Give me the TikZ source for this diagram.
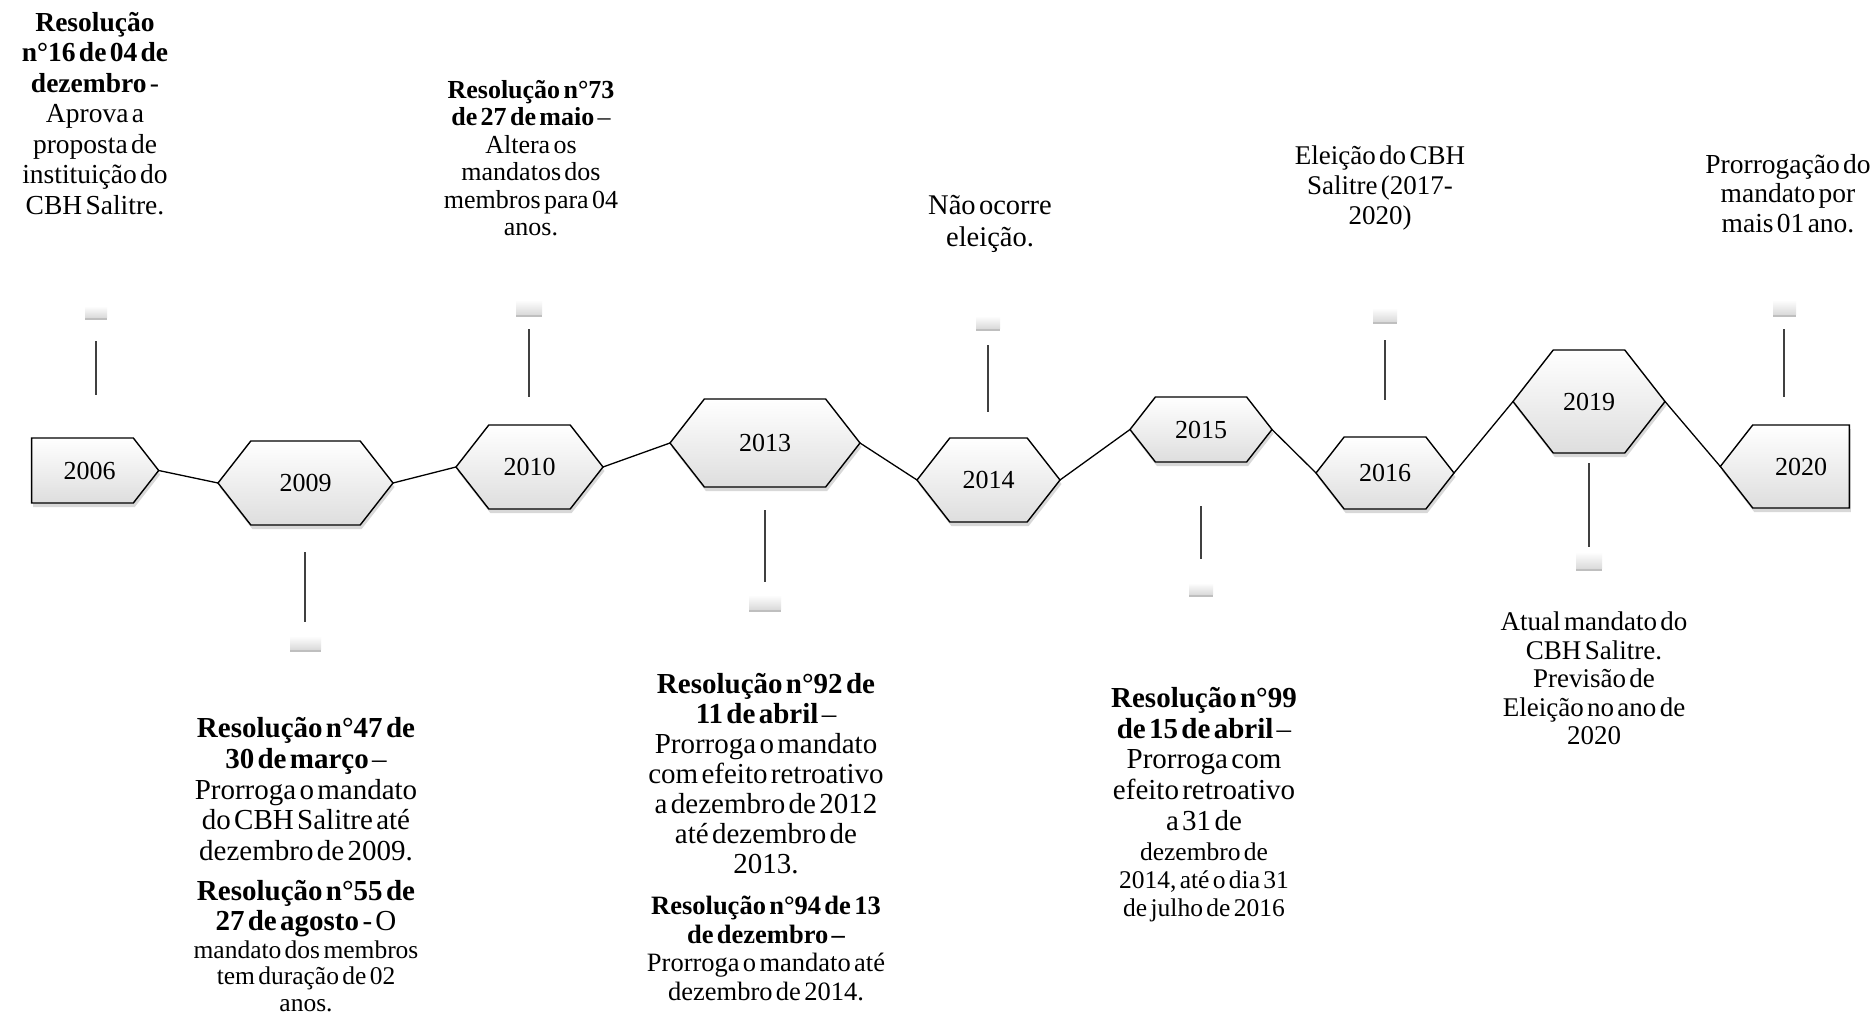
\documentclass[tikz,border=0pt]{standalone}
\usepackage{fontspec}
\setmainfont{Liberation Serif}[WordSpace=1.25]
\usetikzlibrary{shapes.symbols,shadows}
\begin{document}
\begin{tikzpicture}[x=1pt,y=-1pt,
  yearbox/.style={shape=signal, draw=black, line width=1.4pt, inner sep=0pt, outer sep=0pt,
    top color=white, bottom color=black!13,
    drop shadow={shadow xshift=1.5pt, shadow yshift=-4pt, opacity=0.3},
    font=\fontsize{26}{28}\selectfont, signal pointer angle=104},
  hexa/.style={yearbox, signal to=west and east},
  conn/.style={draw=black, line width=1.3pt},
  stubline/.style={draw=black!75, line width=1.3pt},
  stubbox/.style={draw=none, inner sep=0pt, top color=white, bottom color=black!14,
    drop shadow={shadow xshift=0pt, shadow yshift=-2.5pt, opacity=0.5}},
  txt/.style={inner sep=0pt, align=center, text width=300pt, anchor=north},
]
\path[use as bounding box, fill=white] (0,0) rectangle (1876,1016);

% year shapes
\node[yearbox, signal to=east, minimum width=127pt, minimum height=65pt] (y2006) at (82.5,470.5) {\hspace{14pt}2006};
\node[hexa, minimum width=175pt, minimum height=84pt] (y2009) at (305.5,483) {2009};
\node[hexa, minimum width=147pt, minimum height=84pt] (y2010) at (529.5,467) {2010};
\node[hexa, minimum width=190pt, minimum height=88pt] (y2013) at (765,443) {2013};
\node[hexa, minimum width=143pt, minimum height=84pt] (y2014) at (988.5,480) {2014};
\node[hexa, minimum width=142pt, minimum height=65pt] (y2015) at (1201,429.5) {2015};
\node[hexa, minimum width=138pt, minimum height=72pt] (y2016) at (1385,473) {2016};
\node[hexa, minimum width=152pt, minimum height=103pt] (y2019) at (1589,401.5) {2019};
\node[yearbox, signal to=west, minimum width=129pt, minimum height=83pt] (y2020) at (1801,466.5) {2020};

% connectors between years
\draw[conn] (y2006.east) -- (y2009.west);
\draw[conn] (y2009.east) -- (y2010.west);
\draw[conn] (y2010.east) -- (y2013.west);
\draw[conn] (y2013.east) -- (y2014.west);
\draw[conn] (y2014.east) -- (y2015.west);
\draw[conn] (y2015.east) -- (y2016.west);
\draw[conn] (y2016.east) -- (y2019.west);
\draw[conn] (y2019.east) -- (y2020.west);

% stubs (small boxes and lines)
\node[stubbox, minimum width=22pt, minimum height=11pt] (s2006) at (96,311.5) {};
\coordinate (a2006) at (96,341); \coordinate (b2006) at (96,395);
\draw[stubline] (a2006) -- (b2006);

\node[stubbox, minimum width=26pt, minimum height=14pt] (s2010) at (529,307) {};
\coordinate (a2010) at (529,329); \coordinate (b2010) at (529,397);
\draw[stubline] (a2010) -- (b2010);

\node[stubbox, minimum width=24pt, minimum height=12pt] (s2014) at (988,322) {};
\coordinate (a2014) at (988,345); \coordinate (b2014) at (988,412);
\draw[stubline] (a2014) -- (b2014);

\node[stubbox, minimum width=24pt, minimum height=13pt] (s2016) at (1385,314.5) {};
\coordinate (a2016) at (1385,340); \coordinate (b2016) at (1385,400);
\draw[stubline] (a2016) -- (b2016);

\node[stubbox, minimum width=23pt, minimum height=14pt] (s2020) at (1784.5,307) {};
\coordinate (a2020) at (1784,329); \coordinate (b2020) at (1784,397);
\draw[stubline] (a2020) -- (b2020);

\node[stubbox, minimum width=31pt, minimum height=13pt] (s2009) at (305.5,642.5) {};
\coordinate (a2009) at (305,552); \coordinate (b2009) at (305,622);
\draw[stubline] (a2009) -- (b2009);

\node[stubbox, minimum width=32pt, minimum height=14pt] (s2013) at (765,602) {};
\coordinate (a2013) at (765,510); \coordinate (b2013) at (765,582);
\draw[stubline] (a2013) -- (b2013);

\node[stubbox, minimum width=24pt, minimum height=11pt] (s2015) at (1201,588.5) {};
\coordinate (a2015) at (1201,506); \coordinate (b2015) at (1201,559);
\draw[stubline] (a2015) -- (b2015);

\node[stubbox, minimum width=26pt, minimum height=16pt] (s2019) at (1589,560) {};
\coordinate (a2019) at (1589,463); \coordinate (b2019) at (1589,547);
\draw[stubline] (a2019) -- (b2019);

% texts
\node[txt] (t2006) at (95,12) {\fontsize{27.5}{30.5}\selectfont
  \textbf{Resolução}\\\textbf{n°16 de 04 de}\\\textbf{dezembro} -\\Aprova a\\proposta de\\instituição do\\CBH Salitre.\par};

\node[txt] (t2010) at (531,80) {\fontsize{26}{27.5}\selectfont
  \textbf{Resolução n°73}\\\textbf{de 27 de maio} –\\Altera os\\mandatos dos\\membros para 04\\anos.\par};

\node[txt] (t2014) at (990,195) {\fontsize{28.5}{32.5}\selectfont Não ocorre\\eleição.\par};

\node[txt] (t2016) at (1380,146) {\fontsize{27}{30}\selectfont Eleição do CBH\\Salitre (2017-\\2020)\par};

\node[txt] (t2020) at (1788,154) {\fontsize{27.5}{29.5}\selectfont Prorrogação do\\mandato por\\mais 01 ano.\par};

\node[txt] (t2009) at (306,717) {\fontsize{29}{30.8}\selectfont
  \textbf{Resolução n°47 de}\\\textbf{30 de março} –\\Prorroga o mandato\\do CBH Salitre até\\dezembro de 2009.\par
  \vspace{10pt}\fontsize{29}{30}\selectfont
  \textbf{Resolução n°55 de}\\\textbf{27 de agosto} - O\par
  \vspace{1pt}\fontsize{25.5}{26.5}\selectfont
  mandato dos membros\\tem duração de 02\\anos.\par};

\node[txt] (t2013) at (766,673) {\fontsize{29}{30}\selectfont
  \textbf{Resolução n°92 de}\\\textbf{11 de abril} –\\Prorroga o mandato\\com efeito retroativo\\a dezembro de 2012\\até dezembro de\\2013.\par
  \vspace{13pt}\fontsize{26.5}{28.5}\selectfont
  \textbf{Resolução n°94 de 13}\\\textbf{de dezembro –}\\Prorroga o mandato até\\dezembro de 2014.\par};

\node[txt] (t2015) at (1204,687) {\fontsize{29}{30.7}\selectfont
  \textbf{Resolução n°99}\\\textbf{de 15 de abril} –\\Prorroga com\\efeito retroativo\\a 31 de\par
  \vspace{2pt}\fontsize{25.5}{28}\selectfont
  dezembro de\\2014, até o dia 31\\de julho de 2016\par};

\node[txt] (t2019) at (1594,612) {\fontsize{27}{28.5}\selectfont
  Atual mandato do\\CBH Salitre.\\Previsão de\\Eleição no ano de\\2020\par};
\end{tikzpicture}
\end{document}
